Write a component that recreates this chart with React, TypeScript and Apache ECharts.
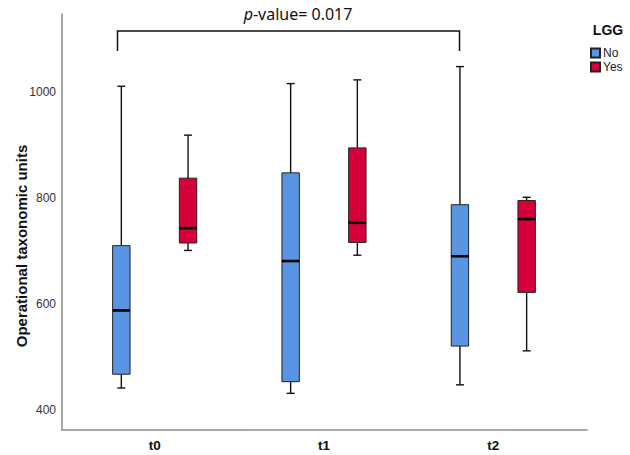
import React, { useEffect, useRef } from "react";
import * as echarts from "echarts";

const categories = ["t0", "t1", "t2"];
// [min, q1, median, q3, max]
const noStats = [
  [442, 468, 588, 710, 1010],
  [432, 454, 681, 847, 1015],
  [448, 521, 690, 787, 1047],
];
const yesStats = [
  [701, 715, 743, 837, 918],
  [692, 716, 753, 894, 1022],
  [512, 622, 760, 795, 801],
];
const yTicks = [400, 600, 800, 1000];
const groupNames = ["No", "Yes"];
const pValueText = "0.017";

const BLUE = "#5995e3";
const RED = "#d5003a";

function makeRender(offset: number) {
  return (params: any, api: any) => {
    const cat = api.value(0);
    const mn = api.coord([cat + offset, api.value(1)]);
    const q1 = api.coord([cat + offset, api.value(2)]);
    const md = api.coord([cat + offset, api.value(3)]);
    const q3 = api.coord([cat + offset, api.value(4)]);
    const mx = api.coord([cat + offset, api.value(5)]);
    const x = mn[0];
    const hw = 8.7;
    const cap = 4;
    const fill = api.visual("color");
    const lineStyle = { stroke: "#111", lineWidth: 1.4 };
    return {
      type: "group",
      children: [
        { type: "line", shape: { x1: x, y1: mx[1], x2: x, y2: mn[1] }, style: lineStyle },
        { type: "line", shape: { x1: x - cap, y1: mx[1], x2: x + cap, y2: mx[1] }, style: lineStyle },
        { type: "line", shape: { x1: x - cap, y1: mn[1], x2: x + cap, y2: mn[1] }, style: lineStyle },
        {
          type: "rect",
          shape: { x: x - hw, y: q3[1], width: hw * 2, height: q1[1] - q3[1] },
          style: { fill, stroke: "#222", lineWidth: 1 },
        },
        {
          type: "line",
          shape: { x1: x - hw, y1: md[1], x2: x + hw, y2: md[1] },
          style: { stroke: "#000", lineWidth: 2.6 },
        },
      ],
    };
  };
}

export default function App() {
  const ref = useRef<HTMLDivElement>(null);
  useEffect(() => {
    const chart = echarts.init(ref.current!, null, { renderer: "svg" });
    const toData = (arr: number[][]) => arr.map((s, i) => [i, ...s]);
    chart.setOption({
      animation: false,
      backgroundColor: "#fff",
      grid: { left: 62, right: 43, top: 14, bottom: 25 },
      xAxis: {
        type: "value",
        min: -0.5475,
        max: 2.5535,
        splitLine: { show: false },
        axisTick: { show: false },
        axisLine: { show: true, onZero: false, lineStyle: { color: "#8c8c8c", width: 1.5 } },
        axisLabel: {
          customValues: [0, 1, 2],
          formatter: (v: number) => categories[Math.round(v)],
          color: "#111",
          fontSize: 13.5,
          fontWeight: "bold",
          fontFamily: "Liberation Sans, Arial, sans-serif",
          margin: 8,
        },
      },
      yAxis: {
        type: "value",
        min: 363,
        max: 1146,
        splitLine: { show: false },
        axisTick: { show: false },
        axisLine: { show: true, onZero: false, lineStyle: { color: "#8c8c8c", width: 1.5 } },
        axisLabel: {
          customValues: yTicks,
          formatter: (v: number) => String(v),
          color: "#333",
          fontSize: 12,
          fontFamily: "Liberation Sans, Arial, sans-serif",
          margin: 6,
        },
      },
      legend: {
        data: groupNames,
        orient: "vertical",
        left: 590,
        top: 47,
        padding: 0,
        itemWidth: 9,
        itemHeight: 9,
        itemGap: 2,
        icon: "rect",
        textStyle: {
          fontSize: 12,
          color: "#222",
          fontFamily: "Liberation Sans Narrow, Arial Narrow, Liberation Sans, sans-serif",
          padding: [0, 0, 0, -2],
        },
      },
      series: [
        {
          name: groupNames[0],
          type: "custom",
          itemStyle: { color: BLUE, borderColor: "#222", borderWidth: 1 },
          encode: { x: 0, y: [1, 2, 3, 4, 5] },
          renderItem: makeRender(-0.197),
          data: toData(noStats),
        },
        {
          name: groupNames[1],
          type: "custom",
          itemStyle: { color: RED, borderColor: "#222", borderWidth: 1 },
          encode: { x: 0, y: [1, 2, 3, 4, 5] },
          renderItem: makeRender(0.197),
          data: toData(yesStats),
        },
      ],
      graphic: [
        {
          type: "text",
          x: 21,
          y: 246,
          rotation: Math.PI / 2,
          style: {
            text: "Operational taxonomic units",
            fontSize: 15,
            fontWeight: "bold",
            fontFamily: "Liberation Sans, Arial, sans-serif",
            fill: "#111",
            align: "center",
            verticalAlign: "middle",
          },
        },
        {
          type: "text",
          x: 608,
          y: 30,
          style: {
            text: "LGG",
            fontSize: 14,
            fontWeight: "bold",
            fontFamily: "Liberation Sans, Arial, sans-serif",
            fill: "#111",
            align: "center",
            verticalAlign: "middle",
          },
        },
        {
          type: "text",
          x: 298,
          y: 14,
          style: {
            text: "{i|p}-value= " + pValueText,
            fontSize: 16,
            fontFamily: "Noto Sans, sans-serif",
            fill: "#111",
            align: "center",
            verticalAlign: "middle",
            rich: { i: { fontStyle: "italic", fontSize: 16, fontFamily: "Noto Sans, sans-serif" } },
          },
        },
        {
          type: "polyline",
          shape: { points: [[117.5, 51], [117.5, 31], [459.5, 31], [459.5, 51]] },
          style: { stroke: "#111", lineWidth: 1.5, fill: null },
        },
      ],
    });
    return () => chart.dispose();
  }, []);
  return (
    <div
      ref={ref}
      style={{ position: "absolute", left: 0, top: 0, width: 630, height: 455 }}
    />
  );
}
